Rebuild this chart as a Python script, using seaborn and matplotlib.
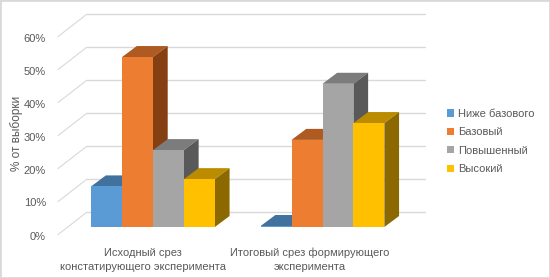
import pandas as pd
import matplotlib.pyplot as plt
from matplotlib.patches import Polygon, Rectangle
import seaborn as sns

# Data
groups = ["Исходный срез", "Итоговый срез"]
group_labels = ["Исходный срез\nконстатирующего эксперимента",
                "Итоговый срез формирующего\nэксперимента"]
levels = ["Ниже базового", "Базовый", "Повышенный", "Высокий"]
start_values = [12.3, 51.5, 23.3, 14.5]
end_values = [0.3, 26.4, 43.4, 31.5]
ticks = [0, 10, 20, 30, 40, 50, 60]

front_colors = ["#5B9BD5", "#ED7D31", "#A5A5A5", "#FFC000"]
top_colors = ["#41719C", "#AE5A21", "#7C7C7C", "#BC8C00"]
side_colors = ["#2F5F8A", "#843F13", "#595959", "#8B6900"]
grid_color = "#D9D9D9"
text_color = "#595959"

df = pd.DataFrame({
    "group": [groups[0]] * 4 + [groups[1]] * 4,
    "level": levels * 2,
    "value": start_values + end_values,
})

sns.set_style("white")
plt.rcParams['font.family'] = ['Liberation Sans', 'DejaVu Sans']

fig = plt.figure(figsize=(5.5, 2.78), dpi=100)
ax = fig.add_axes([0, 0, 1, 1])

sns.barplot(data=df, x="group", y="value", hue="level", hue_order=levels,
            palette=front_colors, saturation=1, width=0.73, gap=0,
            linewidth=0, ax=ax, zorder=5)

# one category = 169.5 px, one percent = 3.3 px
px_x = 1 / 169.5
px_y = 1 / 3.3
ax.set_xlim(-153 * px_x, (550 - 153) * px_x)
ax.set_ylim(-51 * px_y, 227 * px_y)
ax.axis("off")

# walls and gridlines
for t in ticks:
    back_y = t + 14.7 * px_y
    front_y = t - 7.6 * px_y
    ax.plot([-66.3 * px_x, 272 * px_x], [back_y, back_y], color=grid_color, lw=1, zorder=1)
    ax.plot([-95 * px_x, -66.3 * px_x], [front_y, back_y], color=grid_color, lw=0.8, zorder=1)
    ax.text(-107 * px_x, t - 9.5 * px_y, f"{t}%", ha="right", va="center",
            fontsize=8, color=text_color)

# 3d faces on top of seaborn's bars
dx = 14.7 * px_x
dy = 11 * px_y
for i, container in enumerate(ax.containers):
    for bar in container:
        x0 = bar.get_x()
        x1 = x0 + bar.get_width()
        h = bar.get_height()
        z = 5 + i
        bar.set_zorder(z + 0.2)
        ax.add_patch(Polygon([(x0, h), (x1, h), (x1 + dx, h + dy), (x0 + dx, h + dy)],
                             facecolor=top_colors[i], lw=0, zorder=z))
        ax.add_patch(Polygon([(x1, 0), (x1 + dx, dy), (x1 + dx, h + dy), (x1, h)],
                             facecolor=side_colors[i], lw=0, zorder=z))

ax.text(-136.5 * px_x, 94 * px_y, "% от выборки", rotation=90, ha="center", va="center",
        fontsize=8.5, color=text_color)

ax.text(-10 * px_x, -33 * px_y, group_labels[0], ha="center", va="center",
        fontsize=8, color=text_color, linespacing=1.45)
ax.text(157 * px_x, -33 * px_y, group_labels[1], ha="center", va="center",
        fontsize=8, color=text_color, linespacing=1.45)

handles, labels = ax.get_legend_handles_labels()
ax.legend(handles, labels, frameon=False, loc="center left", bbox_to_anchor=(0.813, 0.491),
          fontsize=8, labelcolor=text_color, handlelength=0.63, handleheight=0.63,
          handletextpad=0.36, labelspacing=0.76, borderpad=0, borderaxespad=0)

# outer border
fig.add_artist(Rectangle((0, 0), 1, 1, transform=fig.transFigure, fill=False,
                         edgecolor=grid_color, lw=2))

plt.savefig("out.png", dpi=100)
